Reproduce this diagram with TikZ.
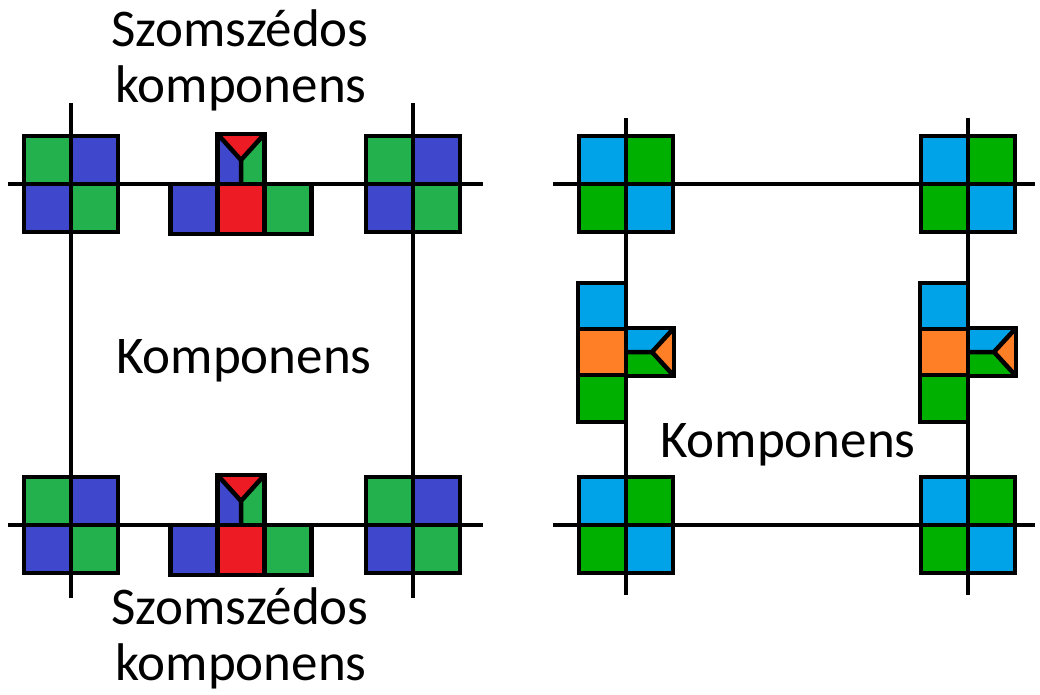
\documentclass[tikz,border=0pt]{standalone}
\usepackage{fontspec}
\setmainfont{Carlito}
\definecolor{pgreen}{RGB}{34,177,76}
\definecolor{pblue}{RGB}{63,72,204}
\definecolor{pred}{RGB}{237,28,36}
\definecolor{cblue}{RGB}{0,162,232}
\definecolor{cgreen}{RGB}{0,176,0}
\definecolor{corange}{RGB}{255,127,39}
\tikzset{
  gridline/.style={line width=4.5pt},
  cellborder/.style={line width=4.5pt, line join=miter},
  lbl/.style={font=\fontsize{53}{56}\selectfont, anchor=base, inner sep=0pt}
}
% 2x2 block centred on a grid crossing: #1 position, #2..#5 colours TL, TR, BL, BR
\newcommand\quadblock[5]{%
  \begin{scope}[shift={#1}]
    \fill[#2] (-47,-48) rectangle (0,0);
    \fill[#3] (0,-48) rectangle (47,0);
    \fill[#4] (-47,0) rectangle (0,48);
    \fill[#5] (0,0) rectangle (47,48);
    \draw[cellborder] (-47,-48) rectangle (47,48);
    \draw[cellborder] (0,-48) -- (0,48) (-47,0) -- (47,0);
  \end{scope}}
% T-shaped block sitting on a horizontal grid line
\newcommand\hblock[1]{%
  \begin{scope}[shift={#1}]
    \fill[pblue] (-70.5,0) rectangle (-23.5,50);
    \fill[pred] (-23.5,0) rectangle (23.5,50);
    \fill[pgreen] (23.5,0) rectangle (70.5,50);
    \fill[pblue] (-23.5,-50) rectangle (0,0);
    \fill[pgreen] (0,-50) rectangle (23.5,0);
    \fill[pred] (-23.5,-50) -- (23.5,-50) -- (0,-24) -- cycle;
    \draw[cellborder] (-70.5,0) rectangle (70.5,50);
    \draw[cellborder] (-23.5,0) -- (-23.5,50) (23.5,0) -- (23.5,50);
    \draw[cellborder] (-23.5,0) rectangle (23.5,-50);
    \draw[cellborder] (-23.5,-50) -- (0,-24) -- (23.5,-50) (0,-24) -- (0,0);
  \end{scope}}
% T-shaped block hanging on a vertical grid line
\newcommand\vblock[1]{%
  \begin{scope}[shift={#1}]
    \fill[cblue] (-48,-69) rectangle (0,-23);
    \fill[corange] (-48,-23) rectangle (0,23);
    \fill[cgreen] (-48,23) rectangle (0,70);
    \fill[cblue] (0,-24) rectangle (48,0);
    \fill[cgreen] (0,0) rectangle (48,24);
    \fill[corange] (48,-24) -- (48,24) -- (26,0) -- cycle;
    \draw[cellborder] (-48,-69) rectangle (0,70);
    \draw[cellborder] (-48,-23) -- (0,-23) (-48,23) -- (0,23);
    \draw[cellborder] (0,-24) rectangle (48,24);
    \draw[cellborder] (48,-24) -- (26,0) -- (48,24) (26,0) -- (0,0);
  \end{scope}}
\begin{document}
\begin{tikzpicture}[x=1pt,y=-1pt]
  \useasboundingbox (0,0) rectangle (1040,695);

  % left grid
  \draw[gridline] (8,184) -- (483,184);
  \draw[gridline] (8,525) -- (483,525);
  \draw[gridline] (71,103) -- (71,598);
  \draw[gridline] (413,103) -- (413,598);

  \quadblock{(71,184)}{pgreen}{pblue}{pblue}{pgreen}
  \quadblock{(413,184)}{pgreen}{pblue}{pblue}{pgreen}
  \quadblock{(71,525)}{pgreen}{pblue}{pblue}{pgreen}
  \quadblock{(413,525)}{pgreen}{pblue}{pblue}{pgreen}
  \hblock{(241,184)}
  \hblock{(241,525)}

  % right grid
  \draw[gridline] (553,184) -- (1035,184);
  \draw[gridline] (553,525) -- (1035,525);
  \draw[gridline] (626,118) -- (626,595);
  \draw[gridline] (968,118) -- (968,595);

  \quadblock{(626,184)}{cblue}{cgreen}{cgreen}{cblue}
  \quadblock{(968,184)}{cblue}{cgreen}{cgreen}{cblue}
  \quadblock{(626,525)}{cblue}{cgreen}{cgreen}{cblue}
  \quadblock{(968,525)}{cblue}{cgreen}{cgreen}{cblue}
  \vblock{(626,352)}
  \vblock{(968,352)}

  % labels
  \node[lbl] (topa) at (240,47) {Szomszédos};
  \node[lbl] (topb) at (241,103) {komponens};
  \node[lbl] (midl) at (244,373) {Komponens};
  \node[lbl] (midr) at (788,457) {Komponens};
  \node[lbl] (bota) at (240,624) {Szomszédos};
  \node[lbl] (botb) at (241,680) {komponens};
\end{tikzpicture}
\end{document}
